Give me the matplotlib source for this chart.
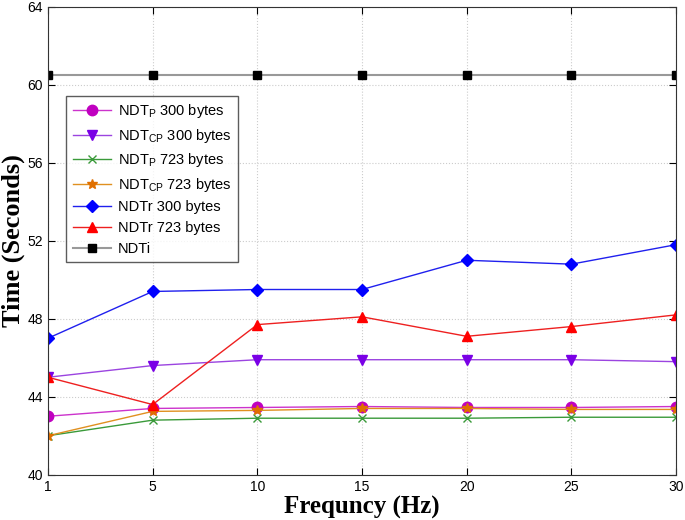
"""
Time vs. frequency for the NDT variants
"""

import matplotlib
matplotlib.use('Agg')
import matplotlib.pyplot as plt

# data
freq_labels = ['1', '5', '10', '15', '20', '25', '30']
ndtp_300 = [43.0, 43.4, 43.45, 43.5, 43.45, 43.45, 43.5]
ndtcp_300 = [45.0, 45.6, 45.9, 45.9, 45.9, 45.9, 45.8]
ndtp_723 = [42.0, 42.8, 42.9, 42.9, 42.9, 42.95, 42.95]
ndtcp_723 = [42.0, 43.25, 43.3, 43.4, 43.4, 43.35, 43.35]
ndtr_300 = [47.0, 49.4, 49.5, 49.5, 51.0, 50.8, 51.8]
ndtr_723 = [45.0, 43.6, 47.7, 48.1, 47.1, 47.6, 48.2]
ndti = [60.5, 60.5, 60.5, 60.5, 60.5, 60.5, 60.5]
y_ticks = [40, 44, 48, 52, 56, 60, 64]

plt.rcParams['font.family'] = ['Liberation Sans', 'DejaVu Sans']
plt.rcParams['mathtext.fontset'] = 'custom'
plt.rcParams['mathtext.rm'] = 'Liberation Sans'
plt.rcParams['mathtext.it'] = 'Liberation Sans'

fig = plt.figure(figsize=(6.85, 5.2), dpi=100)
ax = fig.add_axes([0.070, 0.087, 0.917, 0.9])

x = list(range(len(freq_labels)))

ax.plot(x, ndtp_300, '-o', color='#cc33cc', mfc='#c000c0', mec='#c000c0',
        ms=7.5, lw=1, label=r'NDT$_\mathrm{P}$ 300 bytes')
ax.plot(x, ndtcp_300, '-v', color='#9b44e0', mfc='#7a00e6', mec='#7a00e6',
        ms=7.5, lw=1, label=r'NDT$_\mathrm{CP}$ 300 bytes')
ax.plot(x, ndtp_723, '-x', color='#3a9a3a', mec='#3a9a3a',
        ms=6, lw=1, label=r'NDT$_\mathrm{P}$ 723 bytes')
ax.plot(x, ndtcp_723, '-*', color='#e09020', mfc='#e07000', mec='#e07000',
        ms=7.5, lw=1, label=r'NDT$_\mathrm{CP}$ 723 bytes')
ax.plot(x, ndtr_300, '-D', color='#2020ee', mfc='#0000ff', mec='#0000ff',
        ms=6, lw=1, label='NDTr 300 bytes')
ax.plot(x, ndtr_723, '-^', color='#ee2020', mfc='#ff0000', mec='#ff0000',
        ms=7.5, lw=1, label='NDTr 723 bytes')
ax.plot(x, ndti, '-s', color='#999999', mfc='black', mec='black',
        ms=5.5, lw=1.5, label='NDTi')

ax.set_xlim(0, len(freq_labels) - 1)
ax.set_ylim(40, 64)
ax.set_xticks(x)
ax.set_xticklabels(freq_labels)
ax.set_yticks(y_ticks)
ax.tick_params(direction='in', top=True, right=True, labelsize=10, length=5)
ax.grid(True, linestyle=':', color='#cccccc', linewidth=0.8)
for s in ax.spines.values():
    s.set_color('#333333')

ax.set_xlabel('Frequncy (Hz)', family='Liberation Serif', fontweight='bold',
              fontsize=18, labelpad=2)
ax.set_ylabel('Time (Seconds)', family='Liberation Serif', fontweight='bold',
              fontsize=19)
ax.yaxis.set_label_coords(-0.037, 0.5)

leg = ax.legend(loc='upper left', bbox_to_anchor=(0.029, 0.81), borderaxespad=0,
                fontsize=10.5, fancybox=False, edgecolor='#333333',
                handlelength=2.6, labelspacing=0.45, borderpad=0.45,
                handletextpad=0.5)
leg.get_frame().set_linewidth(1)

fig.savefig('out.png', dpi=100)
plt.close(fig)
